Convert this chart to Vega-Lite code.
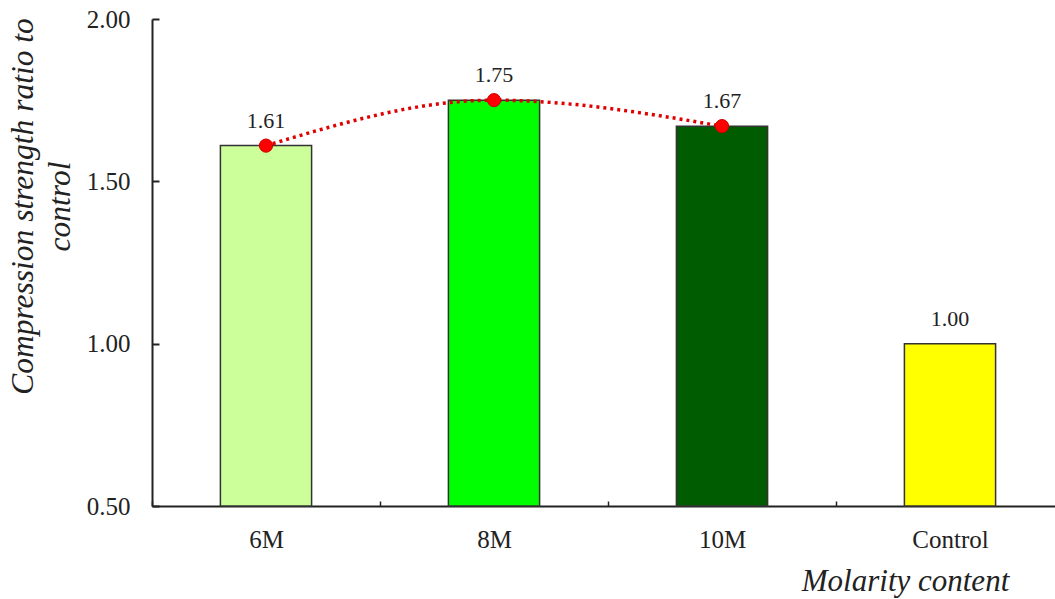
{
  "$schema": "https://vega.github.io/schema/vega-lite/v6.json",
  "autosize": {"type": "none"},
  "padding": {"left": 152, "top": 19, "right": 0, "bottom": 93},
  "width": 903,
  "height": 487,
  "background": "white",
  "config": {
    "view": {"stroke": null},
    "font": "Liberation Serif",
    "axis": {"grid": false, "labelFont": "Liberation Serif", "titleFont": "Liberation Serif", "labelColor": "#222", "titleColor": "#222", "domainColor": "#222", "tickColor": "#222"}
  },
  "data": {
    "values": [
      {"c": "6M", "v": 1.61},
      {"c": "8M", "v": 1.75},
      {"c": "10M", "v": 1.67},
      {"c": "Control", "v": 1.00}
    ]
  },
  "encoding": {
    "x": {
      "field": "c", "type": "nominal", "sort": null,
      "scale": {"range": [0, 912], "paddingInner": 0, "paddingOuter": 0},
      "axis": {
        "title": "Molarity content",
        "titleFontSize": 31, "titleFontStyle": "italic", "titleFontWeight": "normal",
        "titleX": 753, "titleY": 84, "titleAlign": "center", "titleBaseline": "alphabetic",
        "labelAngle": 0, "labelFontSize": 25, "labelPadding": 26,
        "tickBand": "extent", "tickSize": -5, "tickWidth": 1.5,
        "domainWidth": 2
      }
    },
    "y": {
      "field": "v", "type": "quantitative",
      "scale": {"domain": [0.5, 2.0], "zero": false, "nice": false},
      "axis": {
        "title": ["Compression strength ratio to", "control"],
        "titleFontSize": 31.5, "titleFontStyle": "italic", "titleFontWeight": "normal",
        "titleX": -120, "titleY": 187, "titleAlign": "center", "titleBaseline": "alphabetic",
        "titleAngle": -90, "titleLineHeight": 37,
        "values": [0.5, 1.0, 1.5, 2.0], "format": ".2f",
        "labelFontSize": 25, "labelPadding": 29,
        "tickSize": -7, "tickWidth": 2, "domainWidth": 2
      }
    }
  },
  "layer": [
    {
      "mark": {"type": "bar", "width": {"band": 0.4}, "stroke": "#333", "strokeWidth": 1.5},
      "encoding": {
        "y2": {"datum": 0.5},
        "color": {
          "field": "c", "type": "nominal", "legend": null,
          "scale": {"domain": ["6M", "8M", "10M", "Control"], "range": ["#ccff99", "#00ff00", "#005c00", "#ffff00"]}
        }
      }
    },
    {
      "transform": [{"filter": "datum.c != 'Control'"}],
      "mark": {"type": "line", "interpolate": "monotone", "color": "#e00000", "strokeWidth": 3.5, "strokeDash": [3, 4]},
      "encoding": {}
    },
    {
      "transform": [{"filter": "datum.c != 'Control'"}],
      "mark": {"type": "point", "filled": true, "color": "#ff0000", "size": 175, "stroke": "#cc0000", "strokeWidth": 1, "opacity": 1}
    },
    {
      "mark": {"type": "text", "baseline": "alphabetic", "dy": -18, "fontSize": 22, "color": "#222", "font": "Liberation Serif"},
      "encoding": {"text": {"field": "v", "type": "quantitative", "format": ".2f"}}
    }
  ]
}
